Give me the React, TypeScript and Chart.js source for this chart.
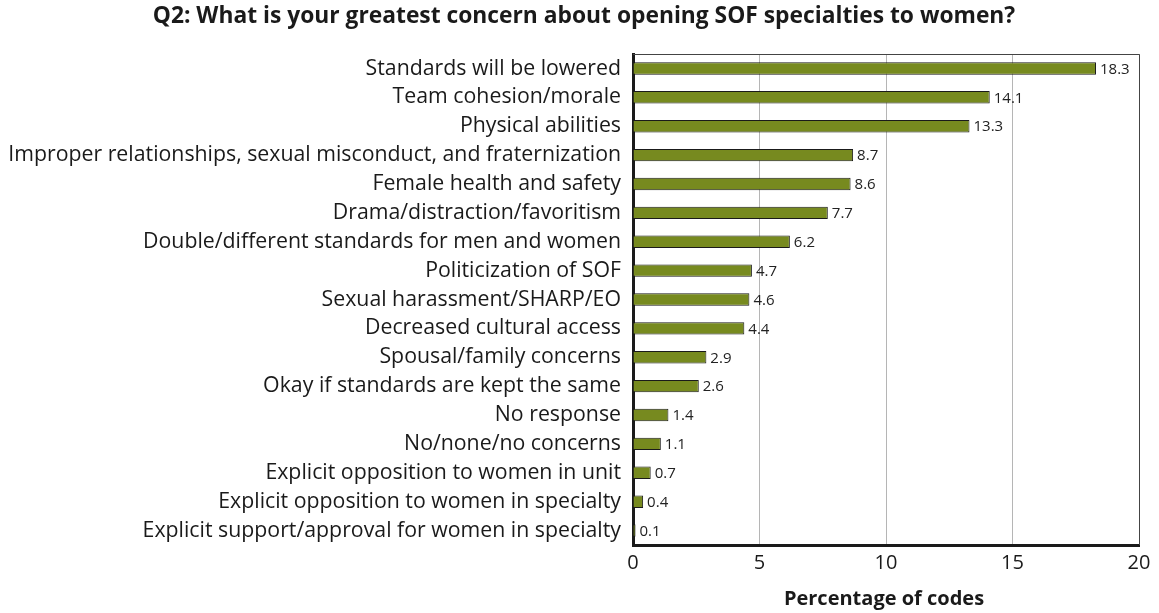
import React, { useEffect, useRef } from "react";
import { Chart, registerables } from "chart.js";

Chart.register(...registerables);

const titleText = "Q2: What is your greatest concern about opening SOF specialties to women?";
const axisTitle = "Percentage of codes";
const categories = [
  "Standards will be lowered",
  "Team cohesion/morale",
  "Physical abilities",
  "Improper relationships, sexual misconduct, and fraternization",
  "Female health and safety",
  "Drama/distraction/favoritism",
  "Double/different standards for men and women",
  "Politicization of SOF",
  "Sexual harassment/SHARP/EO",
  "Decreased cultural access",
  "Spousal/family concerns",
  "Okay if standards are kept the same",
  "No response",
  "No/none/no concerns",
  "Explicit opposition to women in unit",
  "Explicit opposition to women in specialty",
  "Explicit support/approval for women in specialty",
];
const values = [18.3, 14.1, 13.3, 8.7, 8.6, 7.7, 6.2, 4.7, 4.6, 4.4, 2.9, 2.6, 1.4, 1.1, 0.7, 0.4, 0.1];
const xTicks = [0, 5, 10, 15, 20];

const FONT = "'Open Sans', 'Noto Sans', sans-serif";

export default function App() {
  const ref = useRef<HTMLCanvasElement>(null);
  useEffect(() => {
    document.body.style.margin = "0";
    const ctx = ref.current!.getContext("2d")!;
    const decor = {
      id: "decor",
      afterDatasetsDraw(chart: any) {
        const c = chart.ctx;
        const meta = chart.getDatasetMeta(0);
        c.save();
        c.font = `15px ${FONT}`;
        c.fillStyle = "#222";
        c.textAlign = "left";
        c.textBaseline = "middle";
        meta.data.forEach((bar: any, i: number) => {
          c.fillText(values[i].toFixed(1), bar.x + 4, bar.y + 1);
        });
        c.restore();
      },
      afterDraw(chart: any) {
        const c = chart.ctx;
        const a = chart.chartArea;
        c.save();
        c.strokeStyle = "#444";
        c.lineWidth = 1;
        c.beginPath();
        c.moveTo(a.left, a.top + 0.5);
        c.lineTo(a.right + 0.5, a.top + 0.5);
        c.lineTo(a.right + 0.5, a.bottom);
        c.stroke();
        c.fillStyle = "#1a1a1a";
        c.textAlign = "center";
        c.textBaseline = "middle";
        c.font = `bold 22.8px ${FONT}`;
        c.fillText(titleText, 584, 17);
        c.font = `bold 20px ${FONT}`;
        c.fillText(axisTitle, 884, 599);
        c.restore();
      },
    };
    const chart = new Chart(ctx, {
      type: "bar",
      data: {
        labels: categories,
        datasets: [
          {
            data: values,
            backgroundColor: "#778a1f",
            borderColor: "#1a1a1a",
            borderWidth: 1,
            barPercentage: 0.43,
            categoryPercentage: 1,
          },
        ],
      },
      plugins: [decor],
      options: {
        animation: false,
        responsive: false,
        indexAxis: "y",
        layout: { padding: { top: 54, right: 20, left: 0, bottom: 0 } },
        plugins: { legend: { display: false }, tooltip: { enabled: false }, title: { display: false } },
        scales: {
          x: {
            min: 0,
            max: 20,
            afterBuildTicks: (s: any) => {
              s.ticks = xTicks.map((v) => ({ value: v }));
            },
            afterFit: (s: any) => {
              s.height = 68;
            },
            grid: { color: "#b5b5b5", lineWidth: 1, drawTicks: false },
            border: { color: "#1a1a1a", width: 3 },
            ticks: { font: { family: FONT, size: 20 }, color: "#1a1a1a", padding: 6 },
          },
          y: {
            afterFit: (s: any) => {
              s.width = 633;
            },
            grid: { display: false, drawTicks: false },
            border: { color: "#1a1a1a", width: 3 },
            ticks: { font: { family: FONT, size: 21.3 }, color: "#1a1a1a", padding: 12, autoSkip: false },
          },
        },
      },
    } as any);
    return () => chart.destroy();
  }, []);
  return (
    <div style={{ position: "absolute", left: 0, top: 0, width: 1159, height: 613 }}>
      <canvas ref={ref} width={1159} height={613} style={{ width: 1159, height: 613 }} />
    </div>
  );
}
